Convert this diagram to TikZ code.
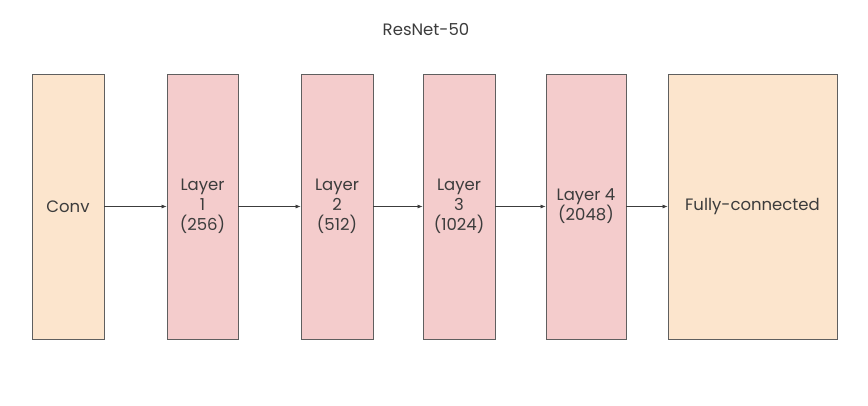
\documentclass[tikz,border=0pt]{standalone}
\usepackage{fontspec}
\setmainfont{Poppins}
\usetikzlibrary{arrows.meta}

\definecolor{peach}{HTML}{FCE5CD}
\definecolor{rose}{HTML}{F4CCCC}
\definecolor{rim}{HTML}{5F5F5F}
\definecolor{ink}{HTML}{3C3C3C}

\tikzset{
  block/.style={draw=rim, line width=0.8pt, minimum height=265pt, inner sep=0pt,
    align=center, text=ink, font=\fontsize{16.5}{20}\selectfont},
  convblock/.style={block, fill=peach},
  layerblock/.style={block, fill=rose},
  flow/.style={-{Latex[length=5pt,width=4pt]}, line width=0.7pt, draw=ink}
}

\begin{document}
\begin{tikzpicture}[x=1pt,y=-1pt]
  \useasboundingbox (0,0) rectangle (868,405);

  \node[text=ink, font=\fontsize{16.5}{20}\selectfont] (title) at (426,30) {ResNet-50};

  \node[convblock, minimum width=72pt] (conv) at (68,206.5) {Conv};
  \node[layerblock, minimum width=71pt] (l1) at (202.5,206.5) {Layer\\1\\(256)};
  \node[layerblock, minimum width=72pt] (l2) at (337,206.5) {Layer\\2\\(512)};
  \node[layerblock, minimum width=72pt] (l3) at (459,206.5) {Layer\\3\\(1024)};
  \node[layerblock, minimum width=80pt] (l4) at (586,206.5) {Layer 4\\(2048)};
  \node[convblock, minimum width=169pt] (fc) at (752.5,206.5) {Fully-connected};

  \foreach \a/\b in {conv/l1, l1/l2, l2/l3, l3/l4, l4/fc}
    \draw[flow] (\a) -- (\b);
\end{tikzpicture}
\end{document}
